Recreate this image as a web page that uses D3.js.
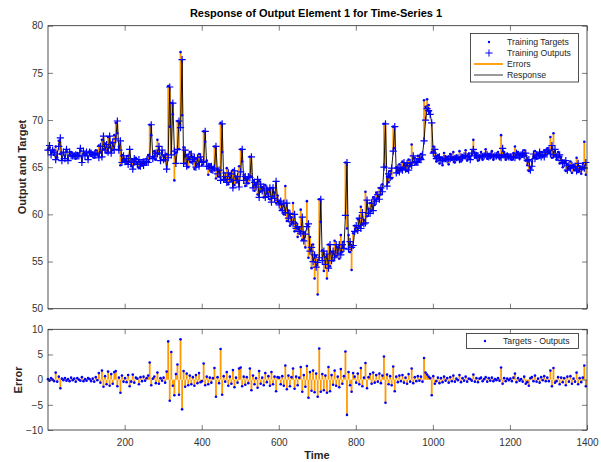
<!DOCTYPE html>
<html>
<head>
<meta charset="utf-8">
<script src="https://cdn.jsdelivr.net/npm/d3@7.9.0/dist/d3.min.js"></script>
<style>
  body { margin: 0; background: #fff; }
  text { font-family: "Liberation Sans", Arial, sans-serif; }
</style>
</head>
<body>
<svg id="chart" width="601" height="462"></svg>
<script>
// Samples, one every `step` time steps starting at t = 1
const step = 4;

const targets = [
  66.9, 67.1, 66.6, 66.8, 66.3, 67.2, 66.0, 67.8, 66.4, 65.9, 66.5, 66.2, 66.7, 65.8, 66.3, 66.6, 66.1, 66.4, 65.9, 66.5, 66.2, 66.8, 66.0, 66.4, 66.3,
  66.4, 66.1, 66.7, 66.2, 66.5, 66.0, 66.8, 66.4, 67.3, 66.6, 67.9, 66.9, 67.5, 66.5, 68.2, 67.1, 67.6, 66.8, 68.4, 69.7, 68.6, 67.2, 65.2, 66.3, 65.8,
  65.9, 65.4, 66.2, 65.6, 65.1, 65.8, 65.3, 66.0, 65.5, 64.9, 65.6, 65.2, 65.8, 65.4, 65.9, 66.3, 69.5, 68.4, 66.1, 66.7, 65.8, 67.9, 66.4, 66.0, 66.6,
  66.2, 65.7, 66.4, 73.6, 69.3, 71.8, 70.6, 63.6, 66.5, 69.9, 66.9, 77.2, 70.5, 67.1, 65.4, 66.3, 65.0, 66.6, 65.5, 66.1, 64.8, 65.9, 65.3, 66.4, 65.6,
  65.2, 68.8, 67.7, 65.7, 64.2, 65.3, 64.5, 65.0, 67.2, 63.8, 64.8, 64.0, 69.7, 66.6, 64.4, 63.6, 64.9, 63.2, 64.3, 63.5, 64.7, 63.1, 64.0, 63.4, 65.1,
  66.9, 65.6, 64.2, 63.0, 63.8, 63.3, 66.1, 64.0, 63.6, 62.5, 63.2, 62.1, 63.5, 62.4, 62.9, 61.8, 63.1, 62.2, 62.6, 61.6, 62.8, 61.9, 62.3, 61.2, 62.0,
  61.4, 60.5, 61.1, 60.0, 63.0, 59.3, 60.4, 58.8, 59.7, 61.2, 58.2, 59.1, 57.6, 58.6, 60.5, 57.3, 58.1, 56.5, 61.4, 55.4, 57.6, 54.3, 56.8, 53.2, 55.6,
  51.5, 61.6, 59.2, 56.2, 54.0, 55.5, 53.2, 56.8, 54.5, 56.0, 55.1, 57.2, 55.6, 56.5, 55.3, 57.8, 56.0, 57.1, 65.5, 58.5, 57.8, 56.0, 54.1, 58.0, 58.8,
  58.2, 59.5, 58.7, 60.8, 58.9, 59.4, 62.4, 59.8, 60.6, 61.2, 60.4, 61.8, 61.0, 62.3, 61.7, 62.8, 62.1, 63.2, 69.6, 65.0, 64.0, 63.4, 64.6, 63.8, 69.3,
  67.0, 65.0, 64.4, 65.3, 64.7, 65.6, 64.9, 65.2, 64.6, 65.8, 65.1, 67.4, 65.5, 66.0, 65.3, 66.2, 65.7, 66.4, 65.9, 72.1, 71.4, 72.2, 71.6, 70.9, 66.6,
  67.2, 66.1, 65.6, 66.3, 65.4, 66.0, 65.2, 66.5, 65.7, 66.1, 65.3, 66.4, 65.8, 66.6, 65.5, 66.2, 65.9, 66.7, 65.6, 66.3, 66.0, 66.8, 65.7, 66.4, 65.9,
  66.3, 67.9, 66.0, 66.5, 65.7, 66.2, 66.6, 65.8, 66.3, 66.9, 65.9, 66.4, 66.0, 66.7, 65.8, 66.3, 66.1, 66.6, 65.9, 68.4, 66.2, 66.6, 65.8, 66.4, 66.0,
  66.3, 65.8, 66.5, 67.2, 66.0, 66.6, 65.9, 66.4, 66.1, 66.8, 65.7, 65.2, 64.6, 65.0, 65.6, 66.1, 66.7, 65.9, 66.4, 66.0, 66.6, 66.2, 66.8, 66.3, 67.0,
  66.5, 68.2, 66.0, 68.6, 66.3, 65.8, 66.6, 65.4, 66.1, 65.0, 65.7, 64.6, 65.3, 64.8, 65.6, 64.4, 65.2, 64.7, 66.0, 64.5, 65.1, 64.3, 65.4, 67.7, 64.2
];

// Targets - Outputs at the same samples
const errors = [
  0.1, -0.2, 0.3, 0.0, -0.3, 1.4, -0.4, 0.6, -1.7, 0.2, -0.1, 0.3, -0.2, 0.1, -0.3, 0.4, -0.1, 0.2, -0.4, 0.3, 0.0, -0.2, 0.5, -0.3, 0.1,
  -0.2, 0.3, 0.1, -0.3, 0.2, -0.4, 0.5, -0.1, 1.3, -0.6, 1.8, -1.4, 0.7, -0.9, 1.6, -1.2, 1.1, -0.8, 1.5, 1.7, -1.3, 0.4, -2.6, 0.8, -0.4,
  0.3, -0.5, 0.9, -1.3, -0.4, 1.0, -0.6, 0.4, 0.2, -0.9, 0.5, -0.3, 0.6, -0.2, 0.3, 0.8, 3.4, -1.1, 0.2, 0.6, -0.7, 1.4, -0.8, 0.3, -0.2,
  0.4, -0.6, 1.6, 7.6, -4.2, 5.5, -1.2, -3.1, 1.1, 3.0, -3.0, 8.0, -5.9, 1.7, -1.4, 1.2, -1.1, 0.8, -0.9, 0.5, -1.2, 0.9, -0.7, 1.3, -0.5,
  -0.3, 3.2, -1.1, 0.6, -0.9, 0.4, -0.6, 0.3, 2.3, -3.4, 0.5, -0.7, 6.1, -3.0, 0.7, -0.4, 1.5, -1.2, 0.6, -0.8, 1.9, -1.5, 0.4, -0.6, 2.2,
  2.4, -1.3, 0.6, -1.0, 0.5, -0.7, 2.2, -2.1, 0.8, -0.9, 0.3, -1.6, 1.7, -0.8, 0.4, -1.1, 1.3, -0.5, 0.7, -1.2, 1.5, -0.9, 0.6, -2.3, 0.5,
  0.4, -0.9, 0.7, -1.2, 2.8, -1.9, 0.8, -1.3, 0.5, 2.2, -1.8, 0.6, -1.1, 0.4, 2.5, -2.4, 0.9, -1.4, 2.7, -3.6, 1.5, -2.2, 1.8, -2.5, 1.2,
  -3.4, 6.2, -2.4, 1.1, -2.1, 0.8, -2.6, 2.5, -2.3, 0.9, -1.0, 1.8, -1.2, 0.6, -1.5, 2.1, -0.8, 0.7, 5.6, -7.0, 1.5, -1.1, -2.4, 1.3, 0.6,
  -0.6, 1.2, -0.9, 2.3, -1.3, 0.4, 3.3, -1.7, 0.5, 1.1, -0.8, 1.4, -0.6, 0.9, -0.4, 1.2, -0.7, 0.8, 4.6, -4.6, 1.0, -0.9, 0.7, -1.1, 2.6,
  -2.3, 0.6, -0.5, 0.8, -0.3, 0.9, -0.6, 0.4, -0.8, 1.1, -0.4, 2.2, -0.7, 0.5, -0.3, 0.7, -0.2, 0.6, -0.4, 4.3, 1.4, 1.0, 0.6, 0.3, -3.1,
  0.7, -0.8, -0.3, 0.4, -0.7, 0.3, -0.5, 0.6, -0.2, 0.3, -0.6, 0.5, -0.3, 0.8, -0.4, 0.2, -0.1, 0.9, -0.5, 0.3, -0.2, 0.6, -0.4, 0.2, 0.1,
  -0.2, 1.0, -0.4, 0.3, -0.5, 0.2, 0.4, -0.3, 0.1, 0.5, -0.4, 0.3, -0.2, 0.4, -0.3, 0.1, -0.1, 0.3, -0.2, 2.4, -0.8, 0.3, -0.3, 0.2, -0.1,
  0.2, -0.3, 0.4, 1.2, -0.5, 0.3, -0.2, 0.1, -0.4, 0.6, -0.8, -0.5, -1.2, 0.3, 0.5, -0.3, 0.8, -0.4, 0.2, -0.6, 0.5, -0.1, 0.7, -0.3, 0.4,
  -0.3, 1.8, -1.3, 2.3, -0.6, -0.3, 0.5, -0.9, 0.4, -0.5, 0.3, -1.1, 0.6, -0.4, 0.7, -0.8, 0.2, -0.4, 1.4, -0.9, 0.3, -0.5, 0.4, 2.8, -1.3
];

const xTicks = [200, 400, 600, 800, 1000, 1200, 1400];
const topYTicks = [50, 55, 60, 65, 70, 75, 80];
const errYTicks = [-10, -5, 0, 5, 10];

const titleText = "Response of Output Element 1 for Time-Series 1";
const topLegend = ["Training Targets", "Training Outputs", "Errors", "Response"];
const errLegend = ["Targets - Outputs"];

const blue = "#0000ff";
const orange = "#ff9900";
const axisColor = "#262626";

// rows: time, target, output (output = target - error)
const rows = targets.map((t, i) => ({
  time: 1 + i * step,
  target: t,
  error: errors[i],
  output: +(t - errors[i]).toFixed(2)
}));

const svg = d3.select("#chart");

const x = d3.scaleLinear().domain([1, 1400]).range([48, 587]);
const yTop = d3.scaleLinear().domain([50, 80]).range([308.7, 25.7]);
const yErr = d3.scaleLinear().domain([-10, 10]).range([430, 329.3]);

const plus = "M-3.6,0H3.6M0,-3.6V3.6";

// ---------- top panel ----------
const topPanel = svg.append("g");

topPanel.append("g")
  .selectAll("line")
  .data(rows)
  .join("line")
  .attr("x1", d => x(d.time)).attr("x2", d => x(d.time))
  .attr("y1", d => yTop(d.target)).attr("y2", d => yTop(d.output))
  .attr("stroke", orange).attr("stroke-width", 1.8);

topPanel.append("path")
  .datum(rows)
  .attr("d", d3.line().x(d => x(d.time)).y(d => yTop(d.output)))
  .attr("fill", "none").attr("stroke", "#000").attr("stroke-width", 0.9);

topPanel.append("g")
  .selectAll("path")
  .data(rows)
  .join("path")
  .attr("transform", d => `translate(${x(d.time)},${yTop(d.output)})`)
  .attr("d", plus)
  .attr("stroke", blue).attr("stroke-width", 1.2).attr("fill", "none");

topPanel.append("g")
  .selectAll("circle")
  .data(rows)
  .join("circle")
  .attr("cx", d => x(d.time)).attr("cy", d => yTop(d.target))
  .attr("r", 1.3).attr("fill", blue);

// ---------- error panel ----------
const errPanel = svg.append("g");

errPanel.append("g")
  .selectAll("line")
  .data(rows)
  .join("line")
  .attr("x1", d => x(d.time)).attr("x2", d => x(d.time))
  .attr("y1", yErr(0)).attr("y2", d => yErr(d.error))
  .attr("stroke", orange).attr("stroke-width", 1.8);

errPanel.append("g")
  .selectAll("circle")
  .data(rows)
  .join("circle")
  .attr("cx", d => x(d.time)).attr("cy", d => yErr(d.error))
  .attr("r", 1.3).attr("fill", blue);

// ---------- axes ----------
function drawAxes(yScale, yTicks, showX) {
  const [y0, y1] = yScale.range();
  const g = svg.append("g");
  const styleAxis = a => {
    a.select(".domain").remove();
    a.selectAll("line").attr("stroke", axisColor).attr("stroke-width", 0.6);
    a.selectAll("text").attr("fill", "#333").attr("font-size", "10px")
      .attr("font-family", "Liberation Sans, Arial, sans-serif");
  };
  g.append("g").attr("transform", `translate(0,${y0})`)
    .call(d3.axisBottom(x).tickValues(xTicks).tickSize(-5).tickPadding(9)
      .tickFormat(showX ? d3.format("d") : ""))
    .call(styleAxis);
  g.append("g").attr("transform", `translate(0,${y1})`)
    .call(d3.axisTop(x).tickValues(xTicks).tickSize(-5).tickFormat(""))
    .call(styleAxis);
  g.append("g").attr("transform", `translate(${x.range()[0]},0)`)
    .call(d3.axisLeft(yScale).tickValues(yTicks).tickSize(-5).tickPadding(5))
    .call(styleAxis);
  g.append("g").attr("transform", `translate(${x.range()[1]},0)`)
    .call(d3.axisRight(yScale).tickValues(yTicks).tickSize(-5).tickFormat(""))
    .call(styleAxis);
  g.append("rect")
    .attr("x", x.range()[0]).attr("y", y1)
    .attr("width", x.range()[1] - x.range()[0]).attr("height", y0 - y1)
    .attr("fill", "none").attr("stroke", axisColor).attr("stroke-width", 0.8);
}
drawAxes(yTop, topYTicks, false);
drawAxes(yErr, errYTicks, true);

// ---------- labels ----------
svg.append("text")
  .attr("x", 316).attr("y", 17)
  .attr("text-anchor", "middle").attr("font-size", "11px").attr("font-weight", "bold")
  .attr("fill", "#000").text(titleText);

svg.append("text")
  .attr("transform", "translate(26,167) rotate(-90)")
  .attr("text-anchor", "middle").attr("font-size", "11px").attr("font-weight", "bold")
  .attr("fill", "#262626").text("Output and Target");

svg.append("text")
  .attr("transform", "translate(22,380) rotate(-90)")
  .attr("text-anchor", "middle").attr("font-size", "11px").attr("font-weight", "bold")
  .attr("fill", "#262626").text("Error");

svg.append("text")
  .attr("x", 317).attr("y", 459)
  .attr("text-anchor", "middle").attr("font-size", "11px").attr("font-weight", "bold")
  .attr("fill", "#262626").text("Time");

// ---------- legends ----------
const lg = svg.append("g");
lg.append("rect").attr("x", 470.5).attr("y", 33.5).attr("width", 108).attr("height", 48.5)
  .attr("fill", "#fff").attr("stroke", axisColor).attr("stroke-width", 0.8);
const legendY = [42, 53, 64, 75];
topLegend.forEach((label, i) => {
  lg.append("text").attr("x", 507).attr("y", legendY[i] + 3.2)
    .attr("font-size", "8.7px").attr("fill", "#262626").text(label);
});
lg.append("circle").attr("cx", 489).attr("cy", legendY[0]).attr("r", 1.2).attr("fill", blue);
lg.append("path").attr("transform", `translate(489,${legendY[1]})`).attr("d", plus)
  .attr("stroke", blue).attr("fill", "none");
lg.append("line").attr("x1", 474).attr("x2", 503).attr("y1", legendY[2]).attr("y2", legendY[2])
  .attr("stroke", orange).attr("stroke-width", 1.8);
lg.append("line").attr("x1", 474).attr("x2", 503).attr("y1", legendY[3]).attr("y2", legendY[3])
  .attr("stroke", "#555").attr("stroke-width", 1.2);

const lg2 = svg.append("g");
lg2.append("rect").attr("x", 466.5).attr("y", 333.5).attr("width", 112).attr("height", 15)
  .attr("fill", "#fff").attr("stroke", axisColor).attr("stroke-width", 0.8);
lg2.append("circle").attr("cx", 485).attr("cy", 341).attr("r", 1.2).attr("fill", blue);
lg2.append("text").attr("x", 503).attr("y", 344.2)
  .attr("font-size", "8.7px").attr("fill", "#262626").text(errLegend[0]);
</script>
</body>
</html>
